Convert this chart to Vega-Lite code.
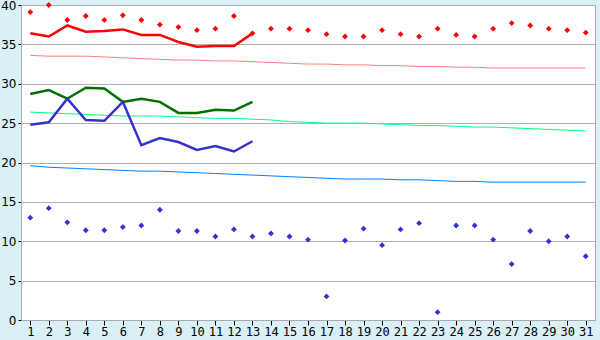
{
  "$schema": "https://vega.github.io/schema/vega-lite/v6.json",
  "width": 574,
  "height": 315,
  "autosize": {"type": "none"},
  "padding": {"left": 21, "top": 5, "right": 5, "bottom": 20},
  "background": "#daeff6",
  "config": {
    "view": {"fill": "white", "stroke": "#aaaaaa", "strokeWidth": 1},
    "axis": {
      "labelFont": "DejaVu Sans Mono",
      "labelFontSize": 12,
      "labelColor": "#000000",
      "domainColor": "#aaaaaa",
      "tickColor": "#000000",
      "title": null
    },
    "axisY": {
      "tickCount": 8,
      "grid": true,
      "gridColor": "#b0b0b0",
      "gridOpacity": 1,
      "tickSize": 3,
      "labelPadding": 2,
      "labelFlush": false,
      "labelFontSize": 12,
      "labelFont": "DejaVu Sans"
    }
  },
  "data": {
    "values": [
      {"day": 1, "max": 39.1, "min": 13.0, "hi": 36.4, "avg": 28.7, "lo": 24.8, "nmax": 33.6, "navg": 26.4, "nmin": 19.6},
      {"day": 2, "max": 40.0, "min": 14.2, "hi": 36.0, "avg": 29.2, "lo": 25.1, "nmax": 33.5, "navg": 26.3, "nmin": 19.4},
      {"day": 3, "max": 38.1, "min": 12.4, "hi": 37.4, "avg": 28.1, "lo": 28.1, "nmax": 33.5, "navg": 26.2, "nmin": 19.3},
      {"day": 4, "max": 38.6, "min": 11.4, "hi": 36.6, "avg": 29.5, "lo": 25.4, "nmax": 33.5, "navg": 26.1, "nmin": 19.2},
      {"day": 5, "max": 38.1, "min": 11.4, "hi": 36.7, "avg": 29.4, "lo": 25.3, "nmax": 33.4, "navg": 26.0, "nmin": 19.1},
      {"day": 6, "max": 38.7, "min": 11.8, "hi": 36.9, "avg": 27.7, "lo": 27.7, "nmax": 33.3, "navg": 25.9, "nmin": 19.0},
      {"day": 7, "max": 38.1, "min": 12.0, "hi": 36.2, "avg": 28.1, "lo": 22.2, "nmax": 33.2, "navg": 25.9, "nmin": 18.9},
      {"day": 8, "max": 37.5, "min": 14.0, "hi": 36.2, "avg": 27.7, "lo": 23.1, "nmax": 33.1, "navg": 25.9, "nmin": 18.9},
      {"day": 9, "max": 37.2, "min": 11.3, "hi": 35.3, "avg": 26.3, "lo": 22.6, "nmax": 33.0, "navg": 25.8, "nmin": 18.8},
      {"day": 10, "max": 36.8, "min": 11.3, "hi": 34.7, "avg": 26.3, "lo": 21.6, "nmax": 33.0, "navg": 25.7, "nmin": 18.7},
      {"day": 11, "max": 37.0, "min": 10.6, "hi": 34.8, "avg": 26.7, "lo": 22.1, "nmax": 32.9, "navg": 25.6, "nmin": 18.6},
      {"day": 12, "max": 38.6, "min": 11.5, "hi": 34.8, "avg": 26.6, "lo": 21.4, "nmax": 32.9, "navg": 25.6, "nmin": 18.5},
      {"day": 13, "max": 36.4, "min": 10.6, "hi": 36.4, "avg": 27.7, "lo": 22.7, "nmax": 32.8, "navg": 25.5, "nmin": 18.4},
      {"day": 14, "max": 37.0, "min": 11.0, "nmax": 32.7, "navg": 25.4, "nmin": 18.3},
      {"day": 15, "max": 37.0, "min": 10.6, "nmax": 32.6, "navg": 25.2, "nmin": 18.2},
      {"day": 16, "max": 36.8, "min": 10.2, "nmax": 32.5, "navg": 25.1, "nmin": 18.1},
      {"day": 17, "max": 36.3, "min": 3.0, "nmax": 32.5, "navg": 25.0, "nmin": 18.0},
      {"day": 18, "max": 36.0, "min": 10.1, "nmax": 32.4, "navg": 25.0, "nmin": 17.9},
      {"day": 19, "max": 36.0, "min": 11.6, "nmax": 32.4, "navg": 25.0, "nmin": 17.9},
      {"day": 20, "max": 36.8, "min": 9.5, "nmax": 32.3, "navg": 24.9, "nmin": 17.9},
      {"day": 21, "max": 36.3, "min": 11.5, "nmax": 32.3, "navg": 24.8, "nmin": 17.8},
      {"day": 22, "max": 36.0, "min": 12.3, "nmax": 32.2, "navg": 24.7, "nmin": 17.8},
      {"day": 23, "max": 37.0, "min": 1.0, "nmax": 32.2, "navg": 24.7, "nmin": 17.7},
      {"day": 24, "max": 36.2, "min": 12.0, "nmax": 32.1, "navg": 24.6, "nmin": 17.6},
      {"day": 25, "max": 36.0, "min": 12.0, "nmax": 32.1, "navg": 24.5, "nmin": 17.6},
      {"day": 26, "max": 37.0, "min": 10.2, "nmax": 32.0, "navg": 24.5, "nmin": 17.5},
      {"day": 27, "max": 37.7, "min": 7.1, "nmax": 32.0, "navg": 24.4, "nmin": 17.5},
      {"day": 28, "max": 37.4, "min": 11.3, "nmax": 32.0, "navg": 24.3, "nmin": 17.5},
      {"day": 29, "max": 37.0, "min": 10.0, "nmax": 32.0, "navg": 24.2, "nmin": 17.5},
      {"day": 30, "max": 36.8, "min": 10.6, "nmax": 32.0, "navg": 24.1, "nmin": 17.5},
      {"day": 31, "max": 36.5, "min": 8.1, "nmax": 32.0, "navg": 24.0, "nmin": 17.5}
    ]
  },
  "encoding": {
    "x": {
      "field": "day",
      "type": "quantitative",
      "scale": {"domain": [0.5, 31.5], "nice": false, "zero": false},
      "axis": {
        "values": [1,2,3,4,5,6,7,8,9,10,11,12,13,14,15,16,17,18,19,20,21,22,23,24,25,26,27,28,29,30,31],
        "grid": false,
        "tickSize": 5,
        "labelPadding": 1,
        "labelFlush": false,
        "labelOverlap": false
      }
    }
  },
  "layer": [
    {
      "mark": {"type": "line", "color": "#ff8080", "strokeWidth": 1},
      "encoding": {
        "y": {"field": "nmax", "type": "quantitative", "scale": {"domain": [0, 40], "nice": false}}
      }
    },
    {
      "mark": {"type": "line", "color": "#00ff80", "strokeWidth": 1},
      "encoding": {"y": {"field": "navg", "type": "quantitative"}}
    },
    {
      "mark": {"type": "line", "color": "#0080ff", "strokeWidth": 1},
      "encoding": {"y": {"field": "nmin", "type": "quantitative"}}
    },
    {
      "mark": {"type": "line", "color": "#ff0000", "strokeWidth": 2.5},
      "encoding": {"y": {"field": "hi", "type": "quantitative"}}
    },
    {
      "mark": {"type": "line", "color": "#007000", "strokeWidth": 2.5},
      "encoding": {"y": {"field": "avg", "type": "quantitative"}}
    },
    {
      "mark": {"type": "line", "color": "#3333cc", "strokeWidth": 2.5},
      "encoding": {"y": {"field": "lo", "type": "quantitative"}}
    },
    {
      "mark": {"type": "point", "shape": "diamond", "filled": true, "color": "#ff0000", "size": 34, "opacity": 1},
      "encoding": {"y": {"field": "max", "type": "quantitative"}}
    },
    {
      "mark": {"type": "point", "shape": "diamond", "filled": true, "color": "#3333cc", "size": 34, "opacity": 1},
      "encoding": {"y": {"field": "min", "type": "quantitative"}}
    }
  ]
}
